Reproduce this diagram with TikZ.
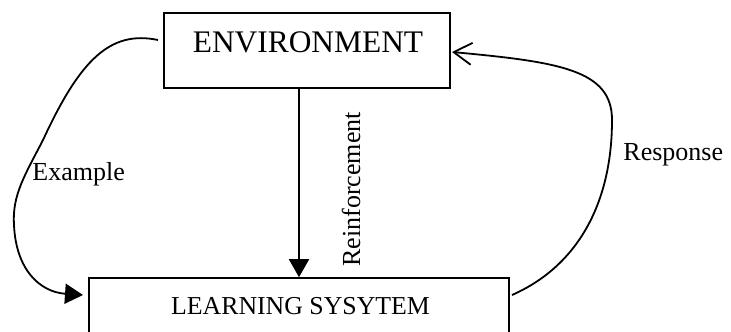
\documentclass[tikz,border=0pt]{standalone}
\usepackage{fontspec}
\setmainfont{Liberation Serif}
\usetikzlibrary{arrows.meta}
\begin{document}
\begin{tikzpicture}[x=0.5pt,y=-0.5pt,
  boxstyle/.style={draw, line width=0.8pt, inner sep=0pt},
  lbl/.style={inner sep=0pt, font=\fontsize{13}{15}\selectfont},
  conn/.style={line width=0.9pt},
  solidtip/.style={-{Triangle[length=9pt,width=10pt]}},
  opentip/.style={-{Straight Barb[length=9pt,width=11pt,line width=0.9pt]}}]
\useasboundingbox (0,0) rectangle (731,331);
\clip (0,0) rectangle (731,331);
% boxes
\node[boxstyle, minimum width=143pt, minimum height=37.5pt] (env) at (307,50.5) {};
\node[boxstyle, minimum width=210pt, minimum height=41pt] (learn) at (299,319) {};
% box texts
\node[inner sep=0pt, anchor=base, font=\fontsize{15.7}{18}\selectfont] (envtxt) at (308,52.5) {ENVIRONMENT};
\node[inner sep=0pt, anchor=base, font=\fontsize{12.9}{15}\selectfont] (learntxt) at (300.5,314.5) {LEARNING SYSYTEM};
% connector end points
\coordinate (exA) at (158,40);
\coordinate (exM) at (43,140);
\coordinate (exN) at (14,225);
\coordinate (exB) at (83,295);
\coordinate (reA) at (512,295);
\coordinate (reM) at (612,120);
\coordinate (reB) at (452,52);
% Example
\draw[conn, solidtip] (exA) .. controls (110,30) and (80,60) .. (exM)
  .. controls (25,175) and (12,195) .. (exN)
  .. controls (16,270) and (40,292) .. (exB);
% Reinforcement
\draw[conn, solidtip] (learn.north |- env.south) -- (learn.north);
% Response
\draw[conn, opentip] (reA) .. controls (580,265) and (612,200) .. (reM)
  .. controls (612,70) and (560,62) .. (reB);
% labels
\node[lbl, anchor=base west] (exl) at (32,180) {Example};
\node[lbl, anchor=base west] (rel) at (623,161) {Response};
\node[lbl, anchor=base west, rotate=90] (rfl) at (360,267) {Reinforcement};
\end{tikzpicture}
\end{document}
